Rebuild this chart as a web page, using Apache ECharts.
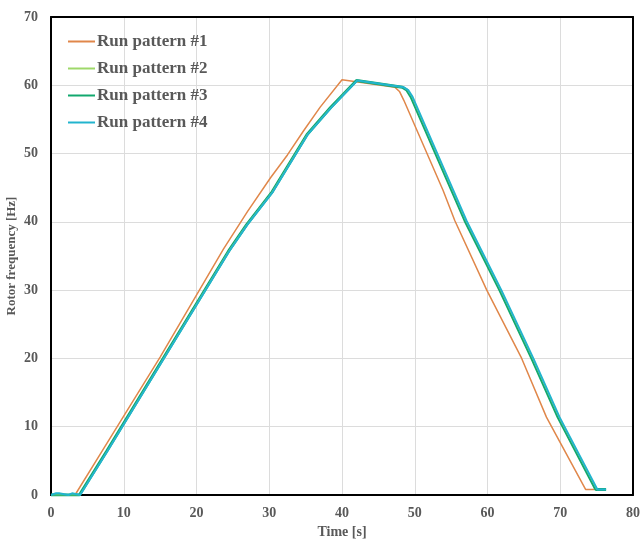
<!DOCTYPE html>
<html>
<head>
<meta charset="utf-8">
<script src="https://cdn.jsdelivr.net/npm/echarts@6/dist/echarts.min.js"></script>
<style>
  html, body { margin: 0; padding: 0; background: #fff; }
  #chart { width: 641px; height: 540px; }
</style>
</head>
<body>
<div id="chart"></div>
<script>
// time [s], rotor frequency [Hz]
var pattern1 = [[0,0],[3.3,0],[7,6.4],[15,20.2],[23.7,36],[27,41.5],[30.2,46.5],[32.5,49.8],[34.7,53.3],[37,56.8],[40,60.8],[47.3,59.7],[47.9,59.1],[48.5,57.8],[53.9,44.6],[55.5,40.2],[59.9,30],[64.7,20],[68.1,11.4],[73.5,0.8],[74.7,0.8]];
var pattern2 = [[0,0],[3.95,0],[7.7,6.4],[24.4,35.7],[26.9,39.6],[30.4,44.4],[35.2,52.8],[38.4,56.7],[42,60.7],[48.4,59.7],[49,59.3],[49.6,58.3],[55.2,44.6],[57,40.2],[61.8,30],[66.2,20],[69.8,11.4],[75,0.8],[76.3,0.8]];
var pattern3 = [[0,0],[3.9,0],[7.65,6.4],[24.4,35.7],[26.9,39.6],[30.4,44.4],[35.2,52.8],[38.4,56.7],[42,60.7],[48.3,59.7],[48.9,59.3],[49.5,58.3],[55.1,44.6],[56.9,40.2],[61.7,30],[66.1,20],[69.7,11.4],[74.9,0.8],[76.3,0.8]];
var pattern4 = [[0,0],[0.7,0.25],[1.1,0.25],[1.3,0],[2.4,0],[2.5,0.25],[2.9,0.25],[3.1,0],[4.0,0],[7.75,6.4],[24.5,35.7],[27,39.6],[30.5,44.4],[35.3,52.8],[38.5,56.7],[42.1,60.7],[48.5,59.7],[49.1,59.3],[49.7,58.3],[55.3,44.6],[57.1,40.2],[61.9,30],[66.3,20],[69.9,11.4],[75.1,0.8],[76.3,0.8]];
var seriesNames = ['Run pattern #1', 'Run pattern #2', 'Run pattern #3', 'Run pattern #4'];

var labelFont = { fontFamily: 'Liberation Serif', fontWeight: 'bold', color: '#595959' };
var frame = { show: true, onZero: false, lineStyle: { color: '#000', width: 2 } };

function line(name, data, color, width) {
  return {
    name: name, type: 'line', data: data, symbol: 'none',
    lineStyle: { color: color, width: width },
    itemStyle: { color: color }
  };
}

var chart = echarts.init(document.getElementById('chart'));
chart.setOption({
  animation: false,
  grid: { left: 51, right: 8, top: 17, bottom: 45, containLabel: false, outerBoundsMode: 'none' },
  legend: {
    orient: 'vertical', left: 62, top: 28, itemGap: 10, itemWidth: 27, itemHeight: 14,
    data: seriesNames,
    itemStyle: { opacity: 0 },
    textStyle: Object.assign({ fontSize: 17, padding: [0, 0, 0, -3] }, labelFont)
  },
  xAxis: [{
    type: 'value', min: 0, max: 80, interval: 10,
    name: 'Time [s]', nameLocation: 'middle', nameGap: 30, nameMoveOverlap: false,
    nameTextStyle: Object.assign({ fontSize: 14 }, labelFont),
    axisLine: frame,
    axisTick: { show: false },
    axisLabel: Object.assign({ fontSize: 14, margin: 11 }, labelFont),
    splitLine: { lineStyle: { color: '#dcdcdc' } }
  }, {
    type: 'value', position: 'top', min: 0, max: 80, interval: 10,
    axisLine: frame, axisTick: { show: false }, axisLabel: { show: false }, splitLine: { show: false }
  }],
  yAxis: [{
    type: 'value', min: 0, max: 70, interval: 10,
    name: 'Rotor frequency [Hz]', nameLocation: 'middle', nameGap: 33, nameMoveOverlap: false,
    nameTextStyle: Object.assign({ fontSize: 13 }, labelFont),
    axisLine: frame,
    axisTick: { show: false },
    axisLabel: Object.assign({ fontSize: 14, margin: 13 }, labelFont),
    splitLine: { lineStyle: { color: '#dcdcdc' } }
  }, {
    type: 'value', position: 'right', min: 0, max: 70, interval: 10,
    axisLine: frame, axisTick: { show: false }, axisLabel: { show: false }, splitLine: { show: false }
  }],
  series: [
    line(seriesNames[0], pattern1, '#E0874A', 1.5),
    line(seriesNames[2], pattern3, '#12A86E', 3),
    line(seriesNames[1], pattern2, '#9ED86A', 1),
    line(seriesNames[3], pattern4, '#22B4CE', 2)
  ]
});
</script>
</body>
</html>
